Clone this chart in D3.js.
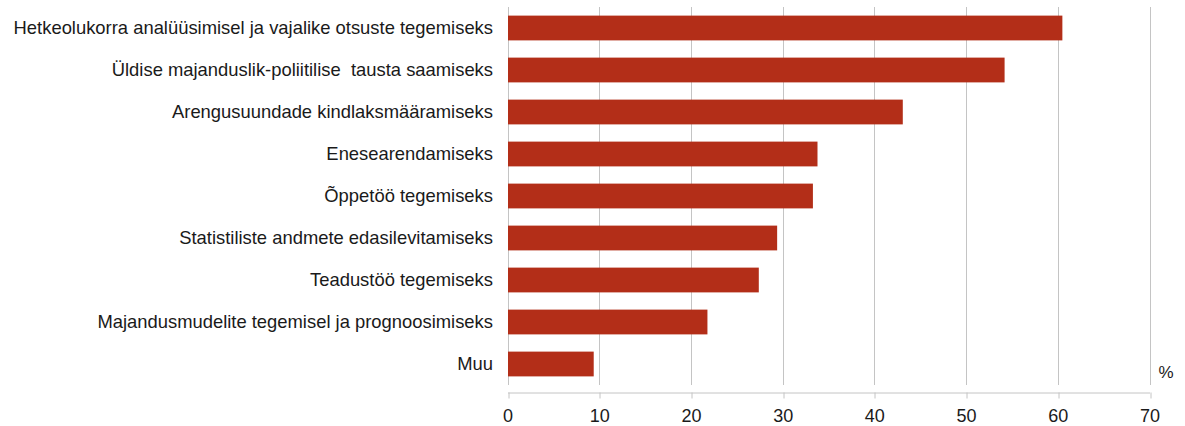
<!DOCTYPE html>
<html><head><meta charset="utf-8">
<script src="https://cdn.jsdelivr.net/npm/d3@7"></script>
<style>body{margin:0;background:#fff}svg{display:block}text{font-family:"Liberation Sans",Arial,sans-serif}</style>
</head><body>
<svg id="c" width="1185" height="426"></svg>
<script>
const categories = [
  "Hetkeolukorra analüüsimisel ja vajalike otsuste tegemiseks",
  "Üldise majanduslik-poliitilise  tausta saamiseks",
  "Arengusuundade kindlaksmääramiseks",
  "Enesearendamiseks",
  "Õppetöö tegemiseks",
  "Statistiliste andmete edasilevitamiseks",
  "Teadustöö tegemiseks",
  "Majandusmudelite tegemisel ja prognoosimiseks",
  "Muu"
];
const values = [60.5, 54.2, 43.1, 33.8, 33.3, 29.4, 27.4, 21.8, 9.4];
const xTicks = [0, 10, 20, 30, 40, 50, 60, 70];
const unitLabel = "%";

(function () {
const svg = d3.select("#c");
const mLeft = 507.5, mRight = 1149.5, mTop = 7, mBottom = 385, axisY = 392.5;
const x = d3.scaleLinear().domain([0, 70]).range([mLeft, mRight]);
const y = d3.scaleBand().domain(categories).range([mTop, mBottom]).paddingInner(0.41).paddingOuter(0.205);

svg.append("g").selectAll("line").data(xTicks).join("line")
  .attr("x1", d => Math.round(x(d)) + 0.5).attr("x2", d => Math.round(x(d)) + 0.5)
  .attr("y1", mTop).attr("y2", mBottom)
  .attr("stroke", "#c4c4c4").attr("stroke-width", 1);

svg.append("g").selectAll("rect").data(values).join("rect")
  .attr("x", x(0) + 0.5).attr("y", (d, i) => y(categories[i]))
  .attr("width", d => x(d) - x(0) - 0.5).attr("height", y.bandwidth())
  .attr("fill", "#b32e18");

const ax = svg.append("g").attr("transform", `translate(0,${axisY})`)
  .call(d3.axisBottom(x).tickValues(xTicks).tickSize(6).tickPadding(11).tickSizeOuter(0));
ax.select(".domain").attr("stroke", "#c4c4c4");
ax.selectAll(".tick line").attr("stroke", "#c4c4c4")
  .attr("transform", d => `translate(${Math.round(x(d)) + 0.5 - x(d)},0)`);
ax.selectAll(".tick text").attr("fill", "#1a1a1a").style("font-size", "18px")
  .style("font-family", '"Liberation Sans",Arial,sans-serif');

svg.append("g").selectAll("text").data(categories).join("text")
  .attr("x", 493).attr("y", d => y(d) + y.bandwidth() / 2)
  .attr("dy", "0.35em").attr("text-anchor", "end")
  .style("white-space", "pre")
  .attr("fill", "#1a1a1a").style("font-size", "18.4px").text(d => d);

svg.append("text").attr("x", 1166).attr("y", 378).attr("text-anchor", "middle")
  .attr("fill", "#1a1a1a").style("font-size", "17px").text(unitLabel);
})();
</script>
</body></html>
